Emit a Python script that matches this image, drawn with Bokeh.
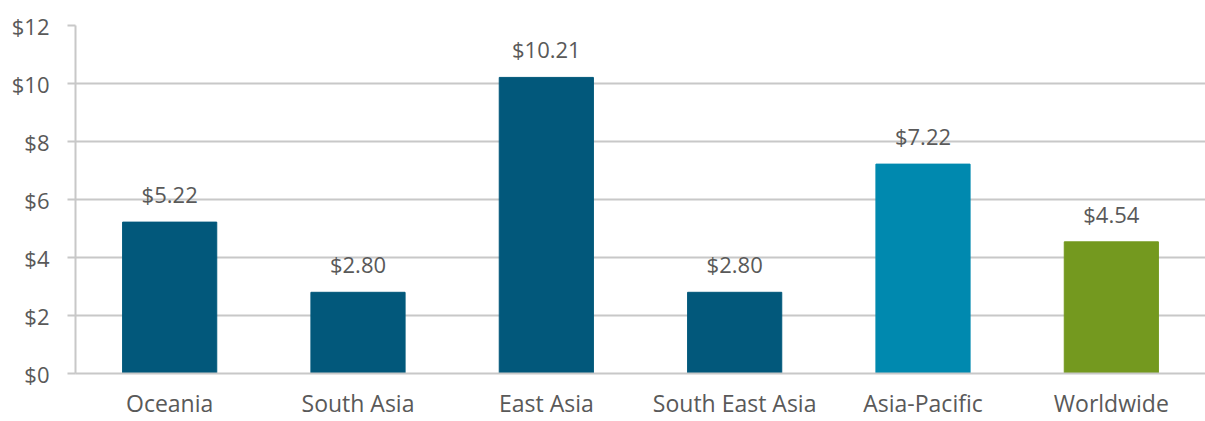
from bokeh.plotting import figure
from bokeh.models import ColumnDataSource, FactorRange, Range1d, SingleIntervalTicker, NumeralTickFormatter
from bokeh.core.properties import value
from bokeh.embed import file_html
from bokeh.resources import INLINE

regions = ["Oceania", "South Asia", "East Asia", "South East Asia", "Asia-Pacific", "Worldwide"]
amounts = [5.22, 2.80, 10.21, 2.80, 7.22, 4.54]
bar_colors = ["#02587B", "#02587B", "#02587B", "#02587B", "#0089AF", "#74991F"]
labels = ["$%.2f" % v for v in amounts]

FONT = "Open Sans"
TXT = "#595959"
GRID = "#C8C8C8"

src = ColumnDataSource(dict(x=regions, top=amounts, color=bar_colors, label=labels))

p = figure(x_range=FactorRange(*regions, range_padding=0), y_range=Range1d(0, 12),
           width=1205, height=421, output_backend="svg", toolbar_location=None,
           min_border_left=75, min_border_right=0, min_border_top=25, min_border_bottom=47)
p.outline_line_color = None

p.vbar(x="x", top="top", width=0.5, color="color", source=src)
p.text(x="x", y="top", text="label", source=src, y_offset=-13,
       text_align="center", text_baseline="bottom",
       text_font=value(FONT), text_font_size="22px", text_color=TXT)

ya = p.yaxis[0]
ya.ticker = SingleIntervalTicker(interval=2)
ya.formatter = NumeralTickFormatter(format="$0")
ya.axis_line_color = GRID
ya.axis_line_width = 2
ya.major_tick_line_color = GRID
ya.major_tick_line_width = 2
ya.major_tick_out = 8
ya.major_tick_in = 0
ya.minor_tick_line_color = None
ya.major_label_standoff = 18
ya.major_label_text_font = FONT
ya.major_label_text_font_size = "22px"
ya.major_label_text_color = TXT

xa = p.xaxis[0]
xa.axis_line_color = GRID
xa.axis_line_width = 2
xa.major_tick_line_color = None
xa.major_tick_out = 0
xa.major_tick_in = 0
xa.minor_tick_line_color = None
xa.major_label_standoff = 13
xa.major_label_text_font = FONT
xa.major_label_text_font_size = "23px"
xa.major_label_text_color = TXT

p.xgrid.grid_line_color = None
p.ygrid.ticker = SingleIntervalTicker(interval=2)
p.ygrid.grid_line_color = GRID
p.ygrid.grid_line_width = 2

open("out.html", "w").write(file_html(p, INLINE))
